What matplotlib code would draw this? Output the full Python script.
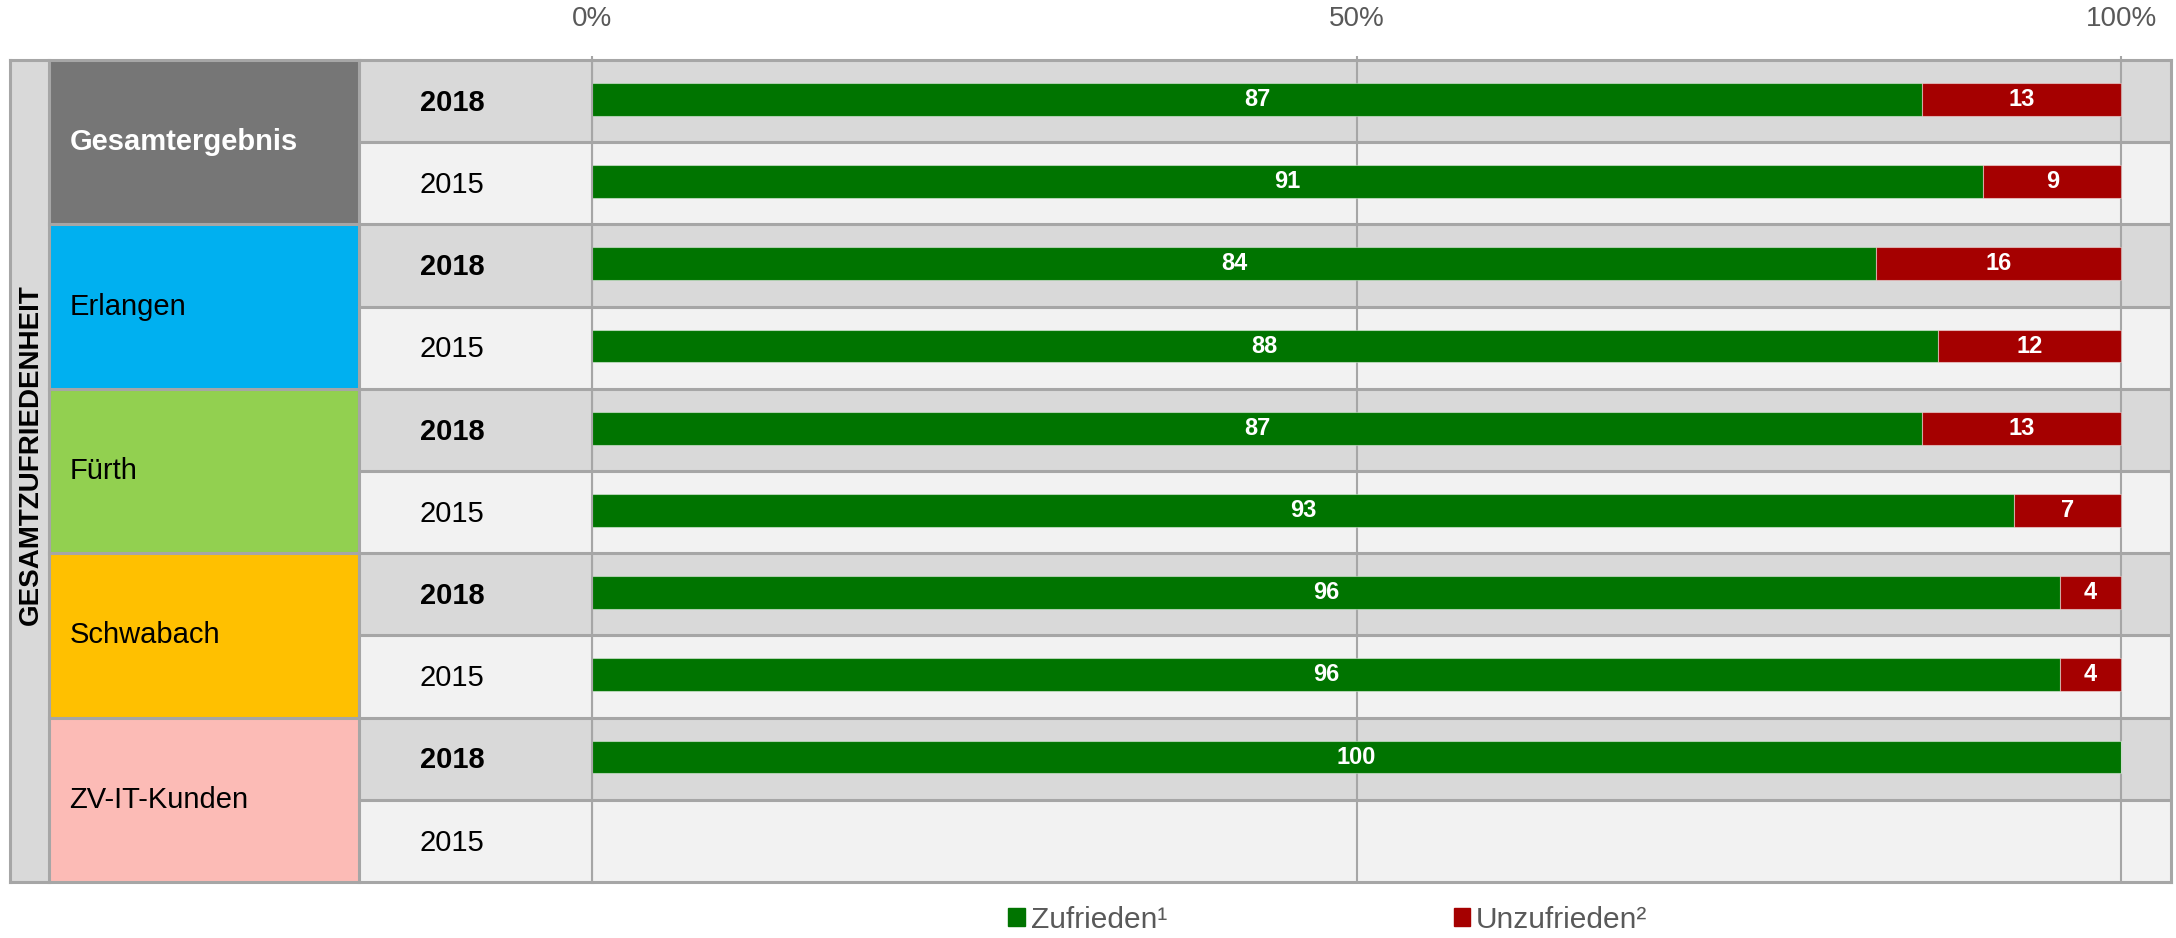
import numpy as np
import matplotlib
matplotlib.use("Agg")
import matplotlib.pyplot as plt
from matplotlib.patches import Rectangle, Patch

plt.rcParams["font.family"] = ["Liberation Sans", "DejaVu Sans"]

# data
groups = ["Gesamtergebnis", "Erlangen", "Fürth", "Schwabach", "ZV-IT-Kunden"]
group_colors = ["#767676", "#00B0F0", "#92D050", "#FFC000", "#FCBBB6"]
years = ["2018", "2015"]
zufrieden = [87, 91, 84, 88, 87, 93, 96, 96, 100, np.nan]
unzufrieden = [13, 9, 16, 12, 13, 7, 4, 4, 0, np.nan]
ticks = [0, 50, 100]
tick_labels = ["0%", "50%", "100%"]
series_names = ["Zufrieden¹", "Unzufrieden²"]

GREEN, RED = "#007400", "#A50000"
BG_DARK, BG_LIGHT = "#D9D9D9", "#F2F2F2"
LINE = "#A6A6A6"
TXT_GRAY = "#595959"

W, H = 2176, 938
fig = plt.figure(figsize=(W / 100, H / 100), dpi=100)

top_px, bot_px = 60, 882
left_px, zero_px, full_px, right_px = 9.7, 592, 2121, 2171
fb = 1 - bot_px / H
fh = (bot_px - top_px) / H

n_rows = len(zufrieden)

# ---- left table: title column, group cells, year cells
tab = fig.add_axes([left_px / W, fb, (zero_px - left_px) / W, fh])
tw = zero_px - left_px
c1 = 48.6 - left_px
c2 = 359 - left_px
tab.set_xlim(0, tw)
tab.set_ylim(n_rows, 0)
tab.axis("off")

tab.add_patch(Rectangle((0, 0), c1, n_rows, fc=BG_DARK, ec="none"))
tab.text(c1 / 2 + 2, n_rows / 2 - 0.2, "GESAMTZUFRIEDENHEIT", rotation=90,
         ha="center", va="center", fontsize=20, fontweight="bold", color="black")

for g, (name, col) in enumerate(zip(groups, group_colors)):
    y0 = 2 * g
    tab.add_patch(Rectangle((c1, y0), c2 - c1, 2, fc=col, ec="none"))
    first = g == 0
    tab.text(c1 + 21, y0 + 1, name, ha="left", va="center", fontsize=21,
             fontweight="bold" if first else "normal",
             color="white" if first else "black")
    for k, yr in enumerate(years):
        r = y0 + k
        tab.add_patch(Rectangle((c2, r), tw - c2, 1,
                                fc=BG_DARK if k == 0 else BG_LIGHT, ec="none"))
        tab.text(452 - left_px, r + 0.52, yr, ha="center", va="center",
                 fontsize=21, fontweight="bold" if k == 0 else "normal",
                 color="black")
    # lines
    if g > 0:
        tab.plot([c1, tw], [y0, y0], color=LINE, lw=2.2, clip_on=False)
    tab.plot([c2, tw], [y0 + 1, y0 + 1], color=LINE, lw=2.2, clip_on=False)

for x in (0, c1, c2):
    tab.plot([x, x], [0, n_rows], color=LINE, lw=2.2, clip_on=False)
tab.plot([0, tw], [0, 0], color=LINE, lw=2.2, clip_on=False)
tab.plot([0, tw], [n_rows, n_rows], color=LINE, lw=2.2, clip_on=False)

# ---- bar chart
ax = fig.add_axes([zero_px / W, fb, (right_px - zero_px) / W, fh])
xmax = 100 * (right_px - zero_px) / (full_px - zero_px)
ax.set_xlim(0, xmax)
ax.set_ylim(n_rows, 0)

for r in range(n_rows):
    ax.axhspan(r, r + 1, color=BG_DARK if r % 2 == 0 else BG_LIGHT, lw=0, zorder=0)
    if r > 0:
        ax.axhline(r, color=LINE, lw=2.2, zorder=1)
for t in ticks:
    ax.axvline(t, color=LINE, lw=1.5, zorder=1)

zf = np.array(zufrieden, dtype=float)
uz = np.array(unzufrieden, dtype=float)
ok = ~np.isnan(zf)
ypos = np.arange(n_rows)[ok] + 0.48

edge = (1, 1, 1, 0.45)
b1 = ax.barh(ypos, zf[ok], height=0.4, color=GREEN, edgecolor=edge, lw=0.8, zorder=2)
b2 = ax.barh(ypos, uz[ok], left=zf[ok], height=0.4, color=RED, edgecolor=edge, lw=0.8, zorder=2)
ax.bar_label(b1, labels=[f"{v:g}" if v > 0 else "" for v in zf[ok]], label_type="center",
             color="white", fontsize=17, fontweight="bold")
ax.bar_label(b2, labels=[f"{v:g}" if v > 0 else "" for v in uz[ok]], label_type="center",
             color="white", fontsize=17, fontweight="bold")

ax.set_yticks([])
ax.set_xticks(ticks)
ax.set_xticklabels(tick_labels)
ax.xaxis.tick_top()
ax.tick_params(axis="x", top=True, bottom=False, length=3, width=1.5, color=LINE,
               pad=17, labelsize=20, labelcolor=TXT_GRAY)
for side, sp in ax.spines.items():
    sp.set_color(LINE)
    sp.set_linewidth(1.5 if side == "left" else 2.2)

handles = [Patch(color=GREEN), Patch(color=RED)]
fig.legend(handles, series_names, loc="center", bbox_to_anchor=(1328 / W, 1 - 920 / H),
           ncol=2, frameon=False, fontsize=21.5, labelcolor=TXT_GRAY,
           handlelength=0.55, handleheight=0.55, handletextpad=0.2,
           columnspacing=9.6, borderpad=0)

fig.savefig("out.png", dpi=100)
